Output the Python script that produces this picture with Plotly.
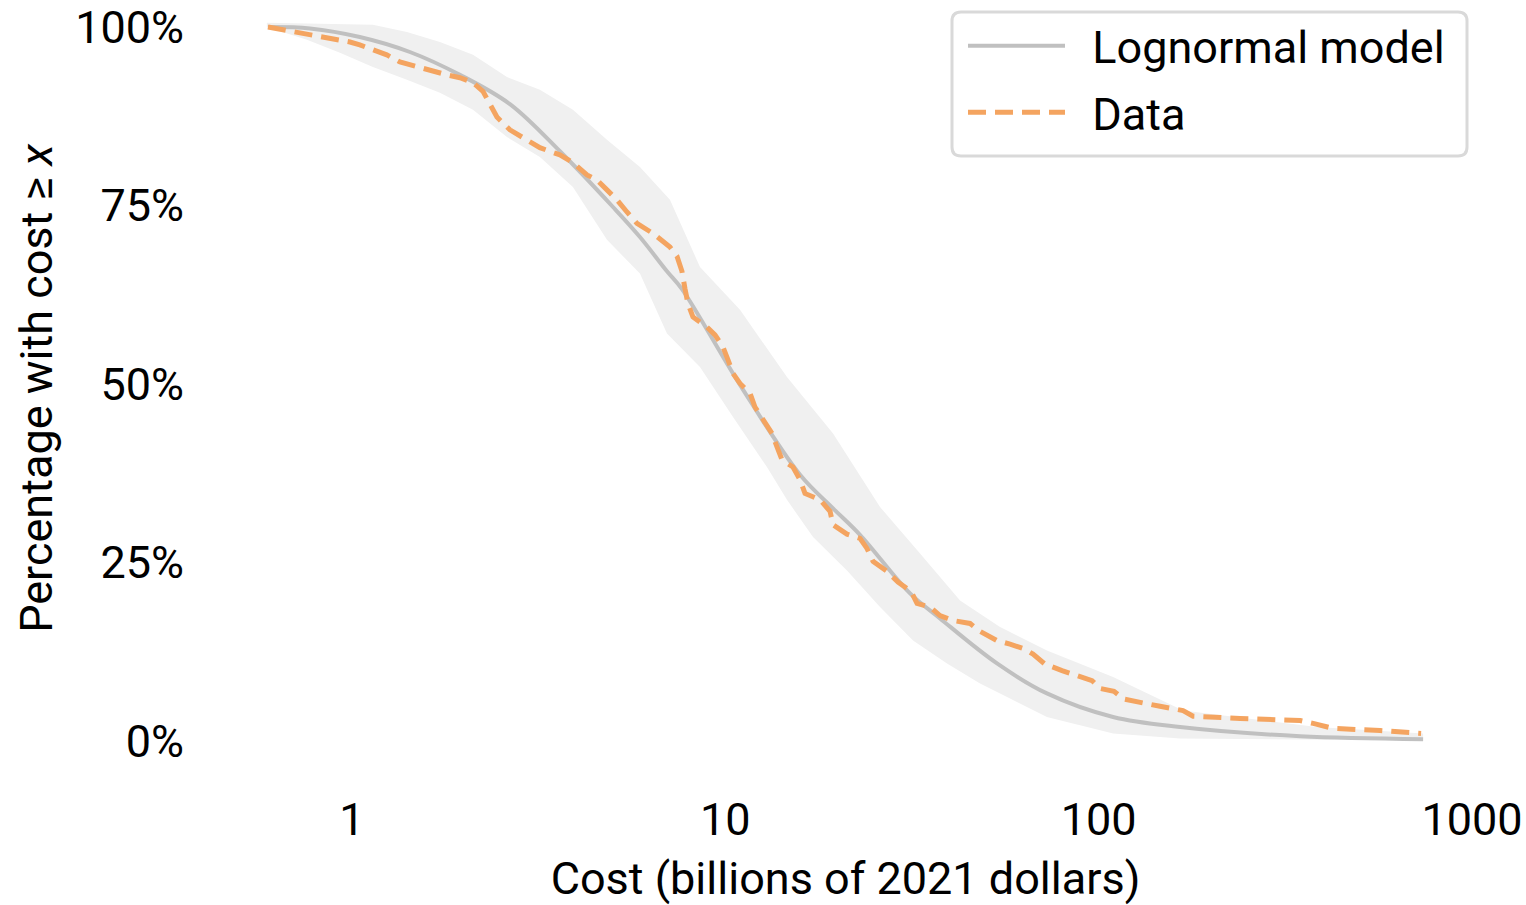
import plotly.graph_objects as go

# Survival curve of project costs (share of projects with cost >= x)
data_cost = [0.596, 0.670, 0.739, 0.821, 0.912, 0.988, 1.05, 1.14, 1.24, 1.345, 1.494, 1.648,
             1.797, 1.947, 2.11, 2.244, 2.343, 2.446, 2.650, 2.872, 3.188, 3.607, 3.908, 4.262,
             4.532, 4.821, 5.128, 5.454, 5.800, 6.402, 7.110, 7.424, 7.656, 7.798, 7.943, 8.194,
             8.933, 9.385, 9.859, 10.17, 10.49, 10.95, 11.65, 12.01, 12.62, 13.34, 13.76, 14.19,
             15.18, 15.86, 16.35, 17.94, 19.08, 19.44, 21.18, 22.95, 23.96, 24.87, 27.12, 29.01,
             31.44, 32.63, 35.35, 37.59, 40.74, 45.24, 48.12, 53.43, 57.89, 62.73, 66.72, 71.84,
             79.79, 88.6, 96.0, 100.9, 109.9, 117.0, 126.7, 146.0, 168.3, 179.0, 239.2, 346.4,
             375.3, 424.6, 567.5, 730.4]
data_pct = [100.0, 99.5, 99.2, 98.6, 98.2, 97.9, 97.5, 96.8, 96.1, 95.1, 94.4, 93.7,
            93.3, 92.9, 92.2, 91.0, 89.1, 87.4, 85.6, 84.5, 83.1, 82.1, 81.0, 79.3,
            78.6, 77.2, 75.8, 74.1, 72.5, 71.1, 69.2, 67.9, 65.8, 63.4, 61.3, 59.4,
            58.0, 56.9, 55.2, 53.4, 51.5, 50.1, 48.7, 46.8, 45.0, 43.1, 41.2, 39.4,
            38.4, 36.6, 34.7, 33.8, 32.2, 30.3, 29.0, 28.4, 27.0, 25.2, 23.8, 22.3,
            21.0, 19.3, 18.8, 17.6, 16.9, 16.5, 15.4, 14.1, 13.6, 13.0, 12.2, 10.8,
            9.9, 9.2, 8.5, 7.4, 7.0, 5.9, 5.5, 4.9, 4.3, 3.5, 3.2, 2.9,
            2.5, 1.8, 1.5, 1.1]

# Fitted lognormal survival curve
model_cost = [0.596, 0.772, 1.05, 1.43, 1.947, 2.65, 3.607, 5.003, 5.908, 6.98, 7.656,
              10.95, 15.86, 19.44, 22.95, 31.25, 37.59, 53.43, 72.7, 109.3, 165.2, 346.4, 739.6]
model_pct = [100.0, 99.8, 98.6, 96.5, 93.3, 89.2, 82.6, 74.8, 70.6, 65.8, 63.3,
             49.9, 37.3, 32.6, 28.9, 20.7, 17.2, 10.9, 6.7, 3.4, 2.0, 0.7, 0.3]

# Uncertainty envelope around the model
band_hi_cost = [0.592, 1.138, 1.404, 1.721, 2.11, 2.602, 3.188, 3.908, 4.821, 5.908, 7.11,
                8.556, 10.95, 14.63, 19.44, 25.97, 33.24, 42.54, 54.43, 72.7, 109.3, 168.3,
                384.6, 739.6]
band_hi_pct = [100.6, 100.3, 99.3, 97.9, 96.1, 93.0, 91.2, 88.4, 84.2, 80.4, 75.8,
               66.4, 60.4, 51.0, 43.1, 32.8, 26.3, 19.7, 16.0, 12.7, 9.0, 4.3,
               2.0, 1.1]
band_lo_cost = [0.592, 0.758, 0.929, 1.138, 1.404, 1.721, 2.11, 2.602, 3.188, 3.908, 4.821,
                5.908, 6.98, 8.556, 10.49, 12.93, 14.63, 17.18, 21.18, 25.97, 31.83, 39.26,
                48.12, 72.7, 109.3, 165.2, 739.6]
band_lo_pct = [100.0, 98.2, 96.4, 94.4, 92.6, 90.8, 88.4, 84.6, 81.8, 77.6, 70.2,
               65.5, 57.1, 52.4, 45.4, 38.4, 33.8, 28.6, 23.9, 18.8, 14.1, 10.9,
               8.1, 3.4, 1.1, 0.4, 0.1]

x_tick_vals = [1, 10, 100, 1000]
x_tick_text = ["1", "10", "100", "1000"]
y_tick_vals = [0, 25, 50, 75, 100]
y_tick_text = ["0%", "25%", "50%", "75%", "100%"]

FONT = "Roboto"
FS = 45
GRAY = "#c0c0c0"
ORANGE = "#f4a460"
BAND = "#f0f0f0"
GAP = "\u00a0\u00a0"  # extra room between legend sample and label

fig = go.Figure()

fig.add_trace(go.Scatter(
    x=band_hi_cost + band_lo_cost[::-1],
    y=band_hi_pct + band_lo_pct[::-1],
    fill="toself", fillcolor=BAND, mode="lines",
    line=dict(width=0, color=BAND), hoverinfo="skip", showlegend=False,
))
fig.add_trace(go.Scatter(
    x=model_cost, y=model_pct, mode="lines", name=GAP + "Lognormal model",
    line=dict(color=GRAY, width=4, shape="spline", smoothing=1.0),
    legendgroup="a",
))
fig.add_trace(go.Scatter(
    x=data_cost, y=data_pct, mode="lines", name=GAP + "Data",
    line=dict(color=ORANGE, width=5, dash="18px,9px"),
    legendgroup="b",
))

# plot area spans 210..1481 px horizontally and 0..777 px vertically
L, R, T, B = 210, 45, 0, 128
W, H = 1526 - L - R, 905 - T - B


def px(x):
    return (x - L) / W


def py(y):
    return (T + H - y) / H


# rounded frame around the legend
x0, x1, y0, y1 = px(952), px(1467), py(156), py(12)
rx, ry = 9 / W, 9 / H
frame = (f"M{x0 + rx},{y1} L{x1 - rx},{y1} Q{x1},{y1} {x1},{y1 - ry} "
         f"L{x1},{y0 + ry} Q{x1},{y0} {x1 - rx},{y0} L{x0 + rx},{y0} "
         f"Q{x0},{y0} {x0},{y0 + ry} L{x0},{y1 - ry} Q{x0},{y1} {x0 + rx},{y1} Z")
fig.add_shape(type="path", path=frame, xref="paper", yref="paper",
              line=dict(color="#d9d9d9", width=3), fillcolor="rgba(255,255,255,0.8)",
              layer="above")

fig.update_layout(
    width=1526, height=905,
    margin=dict(l=L, r=R, t=T, b=B),
    paper_bgcolor="white", plot_bgcolor="white",
    font=dict(family=FONT, size=FS, color="black"),
    showlegend=True,
    legend=dict(
        x=px(963), y=py(10), xanchor="left", yanchor="top",
        bgcolor="rgba(0,0,0,0)", borderwidth=0,
        font=dict(family=FONT, size=FS, color="black"),
        itemwidth=97, traceorder="grouped", tracegroupgap=5,
    ),
    xaxis=dict(
        type="log", range=[-0.380, 3.024],
        tickvals=x_tick_vals, ticktext=x_tick_text,
        showgrid=False, zeroline=False, showline=False, ticks="",
        ticklabelstandoff=12,
        title=dict(text="Cost (billions of 2021 dollars)", standoff=18,
                   font=dict(family=FONT, size=FS)),
    ),
    yaxis=dict(
        range=[-5, 103.78],
        tickvals=y_tick_vals, ticktext=y_tick_text,
        showgrid=False, zeroline=False, showline=False, ticks="",
        ticklabelstandoff=25,
        title=dict(text="Percentage with cost ≥ <i>x</i>", standoff=8,
                   font=dict(family=FONT, size=FS)),
    ),
)

fig.write_html("out.html")
